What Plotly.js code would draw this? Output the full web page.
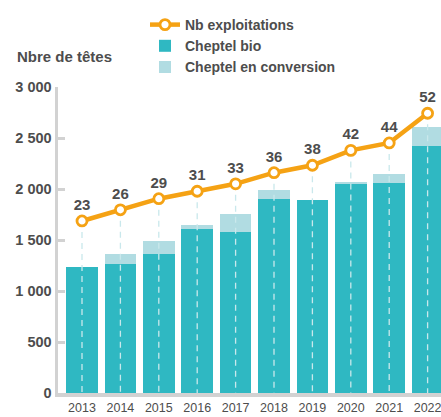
<!DOCTYPE html>
<html>
<head>
<meta charset="utf-8">
<script src="https://cdn.plot.ly/plotly-3.0.1.min.js"></script>
<style>
html,body{margin:0;padding:0;background:#fff;}
#chart{width:441px;height:417px;}
</style>
</head>
<body>
<div id="chart"></div>
<script>
// ---- data ----
const years = ['2013','2014','2015','2016','2017','2018','2019','2020','2021','2022'];
const cheptelBio = [1235, 1265, 1363, 1608, 1578, 1902, 1892, 2049, 2059, 2424];
const cheptelConversion = [0, 98, 127, 39, 177, 88, 0, 20, 88, 181];
const nbExploitations = [23, 26, 29, 31, 33, 36, 38, 42, 44, 52];
const yTickVals = [0, 500, 1000, 1500, 2000, 2500, 3000];
const yTickText = ['0', '500', '1 000', '1 500', '2 000', '2 500', '3 000'];

// ---- style ----
const FONT = '"Liberation Sans", Arial, sans-serif';
const TXT = '#4d4d4d';
const TEAL = '#2fb8c2';
const LIGHT = '#b1dce2';
const ORANGE = '#f5a214';
const AXIS = '#d2d2d2';
const y2Range = [-23.32, 59.07];

// dashed drop lines from each point down to the axis
const dropX = [], dropY = [];
years.forEach((yr, i) => {
  dropX.push(yr, yr, null);
  dropY.push(nbExploitations[i], y2Range[0], null);
});

const data = [
  {
    type: 'bar', name: 'Cheptel bio', x: years, y: cheptelBio,
    marker: {color: TEAL}, legendrank: 2, hoverinfo: 'skip'
  },
  {
    type: 'bar', name: 'Cheptel en conversion', x: years, y: cheptelConversion,
    marker: {color: LIGHT}, legendrank: 3, hoverinfo: 'skip'
  },
  {
    type: 'scatter', mode: 'lines', x: dropX, y: dropY, yaxis: 'y2',
    line: {color: '#c9e8ec', width: 1.3, dash: '6px,5px'},
    showlegend: false, hoverinfo: 'skip', connectgaps: false
  },
  {
    type: 'scatter', mode: 'lines+markers+text', name: 'Nb exploitations',
    x: years, y: nbExploitations, yaxis: 'y2',
    text: nbExploitations.map(String), textposition: 'top center',
    textfont: {family: FONT, size: 15, color: TXT, weight: 'bold'},
    line: {color: ORANGE, width: 4.5},
    marker: {size: 10, color: '#ffffff', line: {color: ORANGE, width: 2.8}},
    cliponaxis: false, legendrank: 1, hoverinfo: 'skip'
  }
];

const layout = {
  width: 441, height: 417,
  margin: {l: 58, r: 0, t: 87, b: 24, pad: 0},
  paper_bgcolor: '#ffffff', plot_bgcolor: '#ffffff',
  font: {family: FONT, color: TXT},
  barmode: 'stack', bargap: 0.174,
  showlegend: true,
  legend: {
    traceorder: 'normal',
    x: (145 - 58) / 383, xanchor: 'left', y: (393 - 9) / 306, yanchor: 'top',
    font: {family: FONT, size: 14, color: TXT, weight: 'bold'},
    bgcolor: 'rgba(0,0,0,0)', borderwidth: 0, itemwidth: 30,
    tracegroupgap: 0
  },
  xaxis: {
    type: 'category', range: [-0.625, 9.349],
    showline: true, linecolor: AXIS, linewidth: 3.5,
    ticks: '', showgrid: false, zeroline: false,
    tickfont: {family: FONT, size: 12.5, color: TXT},
    fixedrange: true
  },
  yaxis: {
    range: [0, 3000], tickvals: yTickVals, ticktext: yTickText,
    showline: true, linecolor: AXIS, linewidth: 3.5,
    ticks: 'inside', ticklen: 7, tickwidth: 3, tickcolor: AXIS,
    showgrid: false, zeroline: false,
    tickfont: {family: FONT, size: 14.5, color: TXT, weight: 'bold'},
    fixedrange: true
  },
  yaxis2: {
    overlaying: 'y', range: y2Range, visible: false, fixedrange: true
  },
  annotations: [{
    text: 'Nbre de têtes', xref: 'paper', yref: 'paper',
    x: (15 - 58) / 383, xanchor: 'left', y: (393 - 57) / 306, yanchor: 'middle',
    showarrow: false,
    font: {family: FONT, size: 15, color: TXT, weight: 'bold'}
  }],
  hovermode: false
};

Plotly.newPlot('chart', data, layout, {displayModeBar: false, staticPlot: true});
</script>
</body>
</html>
